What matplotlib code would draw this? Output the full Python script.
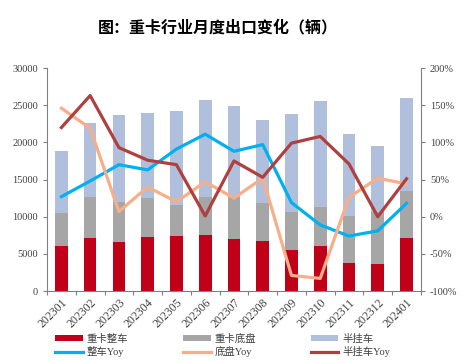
import matplotlib.pyplot as plt
import numpy as np
from matplotlib.ticker import FuncFormatter

months = ["202301", "202302", "202303", "202304", "202305", "202306", "202307",
          "202308", "202309", "202310", "202311", "202312", "202401"]

# stacked totals, converted to segment sizes below
truck_top = [6050, 7170, 6590, 7260, 7400, 7530, 6950, 6730, 5560, 6010, 3720, 3630, 7130]
chassis_top = [10530, 12600, 12010, 12510, 11570, 12690, 12600, 11800, 10590, 11350, 10130, 10590, 13490]
trailer_top = [18830, 22600, 23720, 23950, 24210, 25650, 24890, 23050, 23810, 25610, 21120, 19460, 25920]

truck_yoy = [27, 48, 70, 63, 91, 111, 88, 97, 19, -11, -26, -19, 18]
chassis_yoy = [146, 119, 7, 40, 20, 47, 25, 52, -79, -83, 26, 52, 44]
trailer_yoy = [120, 163, 93, 76, 70, 1, 75, 53, 99, 108, 71, 0, 51]

truck = np.array(truck_top)
chassis = np.array(chassis_top) - truck
trailer = np.array(trailer_top) - np.array(chassis_top)

serif = ["Liberation Serif", "Noto Sans CJK SC"]
plt.rcParams["font.family"] = serif

fig = plt.figure(figsize=(4.61, 3.62), dpi=100)
ax = fig.add_axes([0.102, 0.196, 0.811, 0.616])
x = np.arange(len(months)) + 0.5
w = 0.44

b1 = ax.bar(x, truck, w, color="#C00018", label="重卡整车")
b2 = ax.bar(x, chassis, w, bottom=truck, color="#A6A6A6", label="重卡底盘")
b3 = ax.bar(x, trailer, w, bottom=chassis_top, color="#B0C0DC", label="半挂车")

ax.set_xlim(0, len(months))
ax.set_ylim(0, 30000)
ax.set_yticks(range(0, 30001, 5000))
ax.set_xticks(np.arange(len(months) + 1))
ax.set_xticklabels([])
ax.set_xticks(x, minor=True)
ax.set_xticklabels(months, minor=True, rotation=45, ha="right", rotation_mode="anchor",
                   fontsize=8.5, color="#404040")
ax.tick_params(axis="x", which="minor", length=0, pad=4)
ax.tick_params(axis="x", which="major", length=3, color="#808080")
ax.tick_params(axis="y", labelsize=7.5, labelcolor="#404040", length=3, color="#808080")

ax2 = ax.twinx()
l1, = ax2.plot(x, truck_yoy, color="#00B0F0", lw=2.3, label="整车Yoy")
l2, = ax2.plot(x, chassis_yoy, color="#F8AE88", lw=2.3, label="底盘Yoy")
l3, = ax2.plot(x, trailer_yoy, color="#B04040", lw=2.3, label="半挂车Yoy")
ax2.set_ylim(-100, 200)
ax2.set_yticks(range(-100, 201, 50))
ax2.yaxis.set_major_formatter(FuncFormatter(lambda v, p: f"{int(v)}%"))
ax2.tick_params(axis="y", labelsize=7.5, labelcolor="#404040", length=3, color="#808080")

for a in (ax, ax2):
    a.spines["top"].set_visible(False)
    for s in ("left", "right", "bottom"):
        a.spines[s].set_color("#808080")
ax.spines["right"].set_visible(False)
ax2.spines["left"].set_visible(False)
ax2.spines["bottom"].set_visible(False)

fig.text(0.473, 0.925, "图：重卡行业月度出口变化（辆）", ha="center", va="center",
         fontsize=11.5, fontweight="bold", family=["Noto Sans CJK SC", "DejaVu Sans"])

fig.legend([b1, l1, b2, l2, b3, l3],
           ["重卡整车", "整车Yoy", "重卡底盘", "底盘Yoy", "半挂车", "半挂车Yoy"],
           ncol=3, loc="lower left", bbox_to_anchor=(0.1, -0.012), frameon=False,
           fontsize=7.5, handlelength=2.6, handleheight=0.5, columnspacing=5.3,
           handletextpad=0.4, labelspacing=0.2, labelcolor="#404040")

fig.savefig("out.png", dpi=100)
